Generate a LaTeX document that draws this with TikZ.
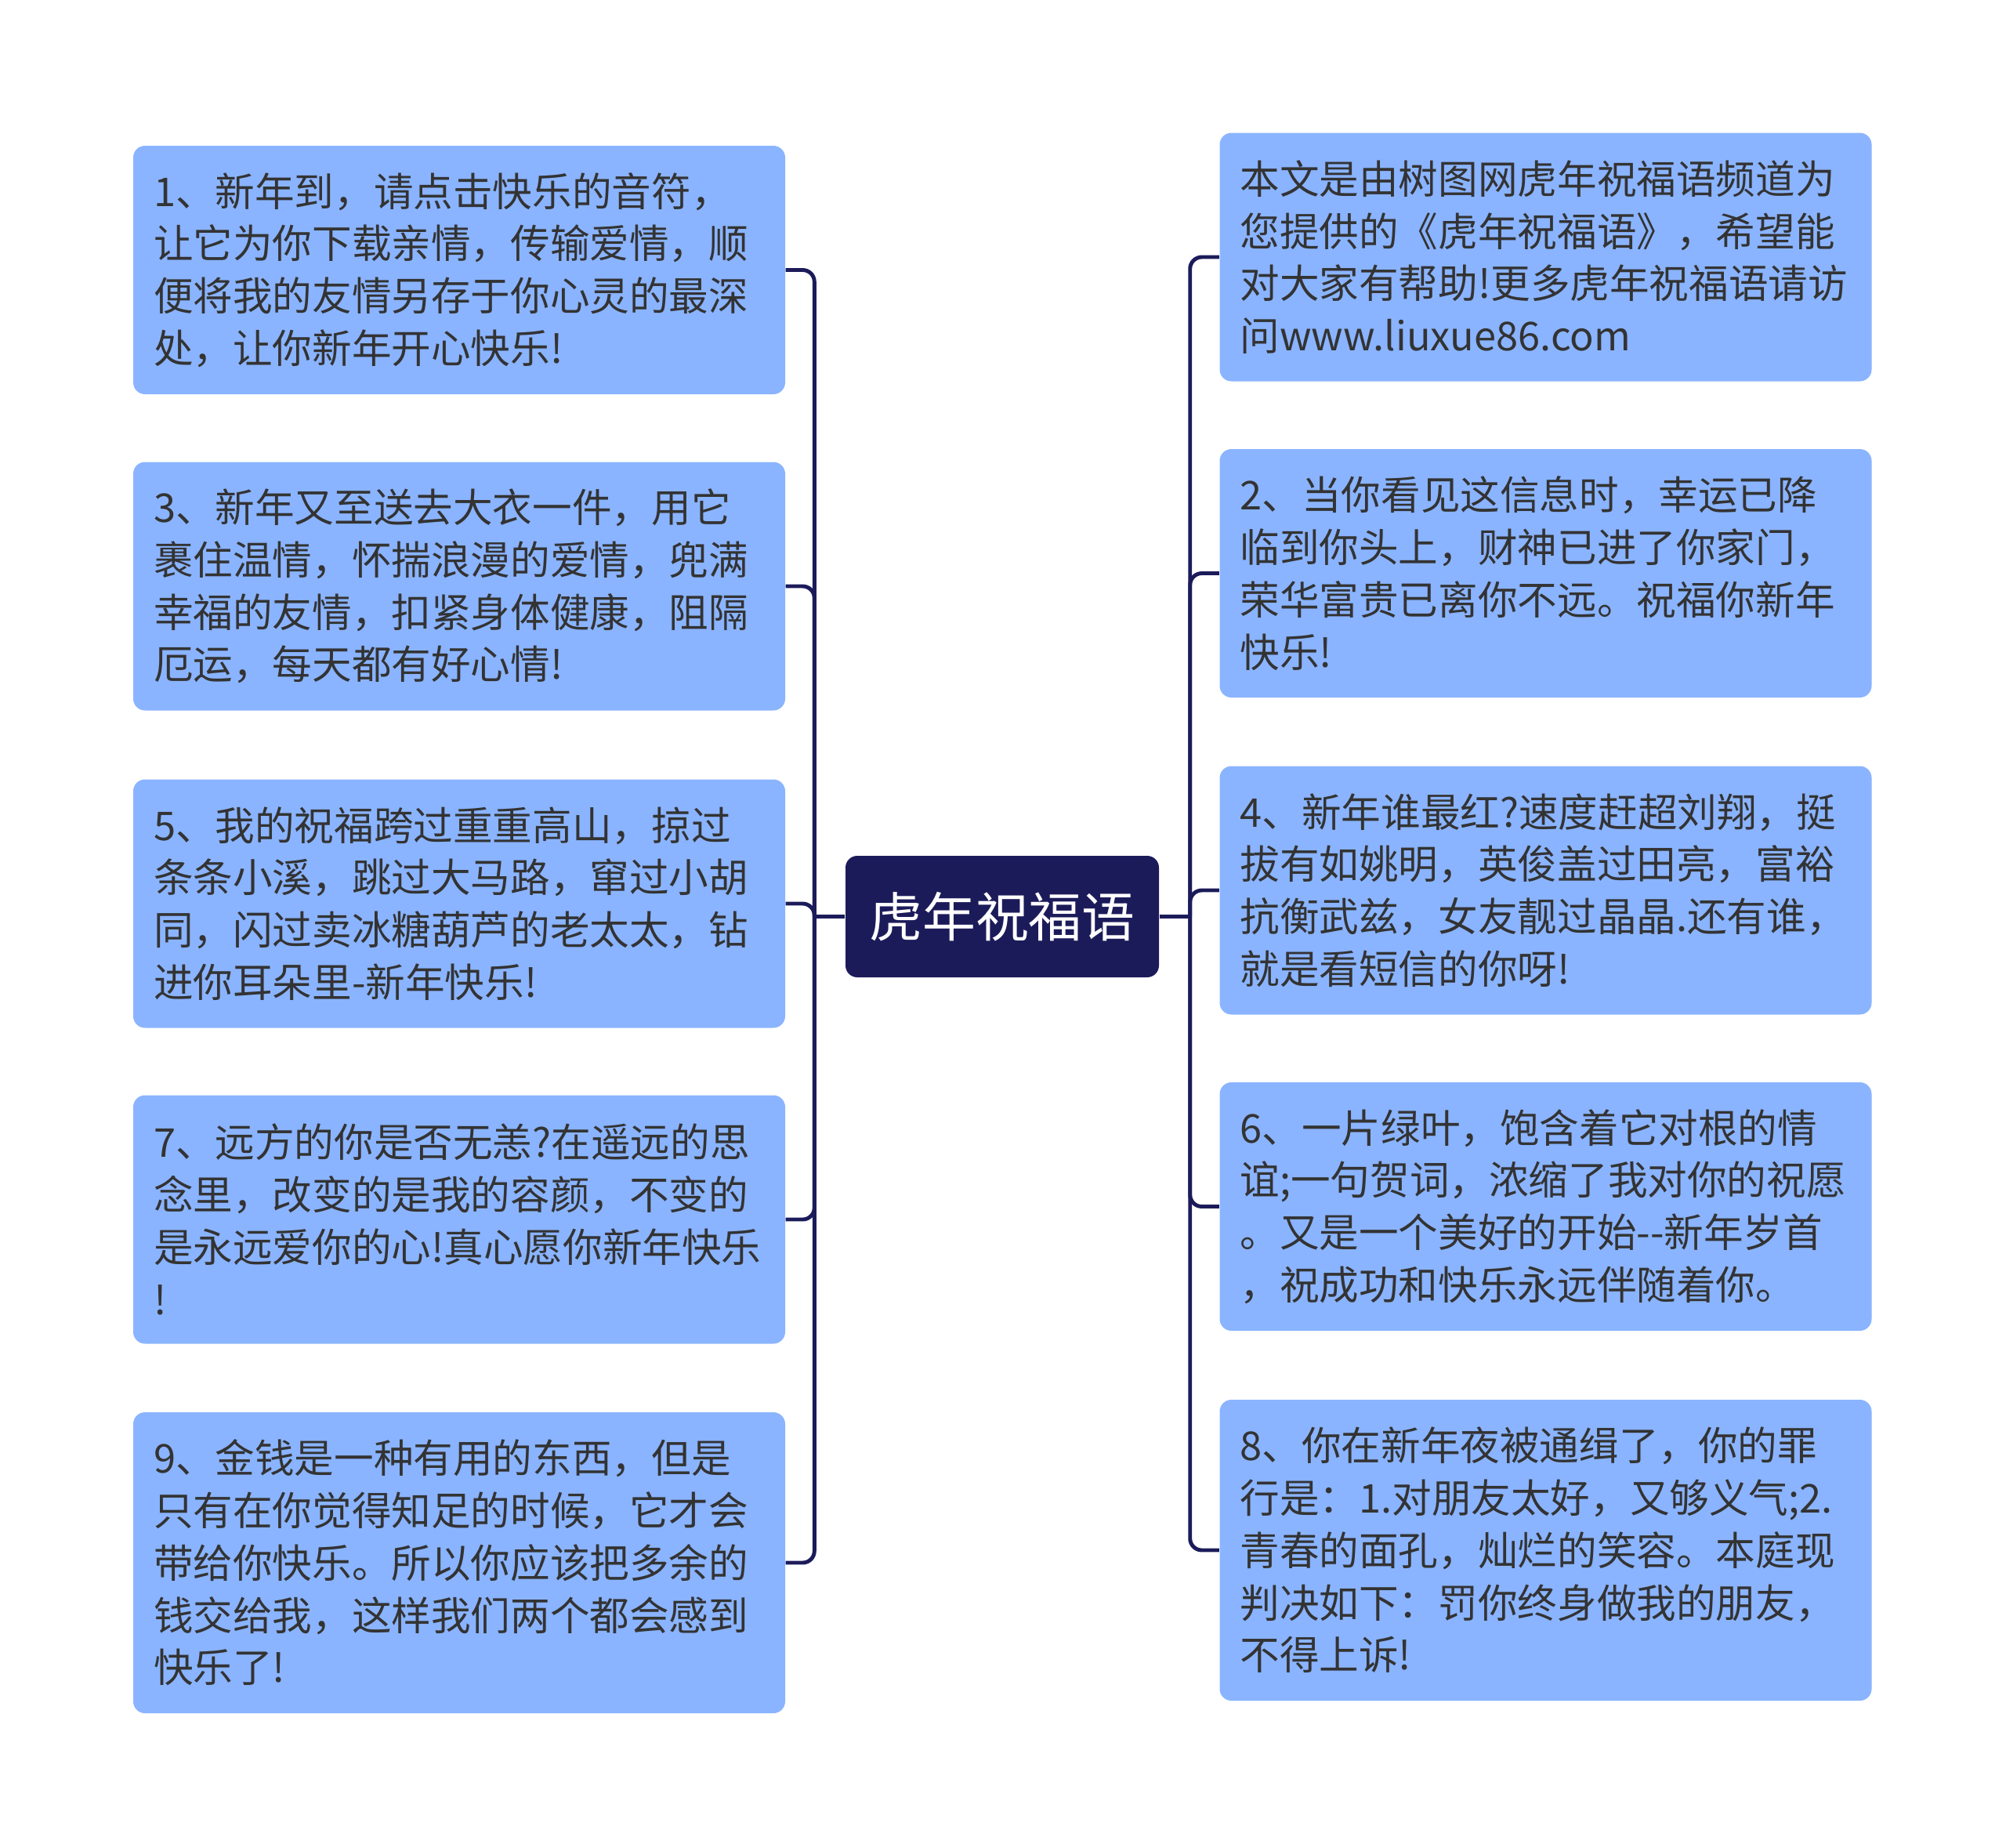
\documentclass[tikz,border=0pt]{standalone}
\usepackage{fontspec}
\setmainfont{Noto Sans CJK SC}
\usepackage{xcolor}
\usepackage{tikz}
\usetikzlibrary{positioning, calc}
\definecolor{inknavy}{RGB}{28, 27, 90}
\definecolor{fillblue}{RGB}{138, 180, 255}
\definecolor{inktext}{RGB}{51, 51, 51}
\tikzset{
    leaf/.style  ={fill=fillblue, draw=none, rounded corners=0.15cm,
                   minimum width=8.32cm, minimum height=3.17cm,
                   text width=7.8cm, inner xsep=0.26cm, align=left,
                   text=inktext, font=\fontsize{14.4}{19}\selectfont},
    tallleaf/.style={leaf, minimum height=3.84cm},
    root/.style  ={fill=inknavy, draw=none, rounded corners=0.15cm,
                   minimum width=4.0cm, minimum height=1.55cm,
                   text=white, font=\fontsize{19.3}{23}\selectfont},
    link/.style  ={draw=inknavy, line width=1.4pt, rounded corners=0.15cm}
}

\begin{document}
\begin{tikzpicture}
  \useasboundingbox (0,0) rectangle (25.6,-23.58);
  % centre
  \node[root] (hub) at (12.79,-11.695) {虎年祝福语};
  \coordinate (ltrunk) at ($(hub.west)+(-0.39,0)$);
  \coordinate (rtrunk) at ($(hub.east)+(0.39,0)$);

  % left side
  \node[leaf] (l1) at (5.86,-3.445) {1、新年到，请点击快乐的音符，\\让它为你下载亲情，传输爱情，顺\\便将我的友情另存于你心灵的最深\\处，让你新年开心快乐!};
  \node[leaf] (l3) at (5.86,-7.48) {3、新年又至送去大衣一件，用它\\裹住温情，怀揣浪漫的爱情，兜满\\幸福的友情，扣紧身体健康，阻隔\\厄运，每天都有好心情!};
  \node[leaf] (l5) at (5.86,-11.53) {5、我的祝福跨过重重高山，掠过\\条条小溪，跳过大马路，窜过小胡\\同，闪过卖冰糖葫芦的老太太，钻\\进你耳朵里-新年快乐!};
  \node[leaf] (l7) at (5.86,-15.56) {7、远方的你是否无恙?在遥远的思\\念里，改变的是我的容颜，不变的\\是永远爱你的心!真心愿你新年快乐\\!};
  \node[tallleaf] (l9) at (5.86,-19.94) {9、金钱是一种有用的东西，但是\\只有在你觉得知足的时候，它才会\\带给你快乐。所以你应该把多余的\\钱交给我，这样我们两个都会感到\\快乐了!};

  % right side
  \node[leaf] (r0) at (19.725,-3.28) {本文是由树图网虎年祝福语频道为\\您提供的《虎年祝福语》，希望能\\对大家有帮助!更多虎年祝福语请访\\问www.liuxue86.com};
  \node[leaf] (r2) at (19.725,-7.315) {2、当你看见这信息时，幸运已降\\临到你头上，财神已进了你家门，\\荣华富贵已离你不远。祝福你新年\\快乐!};
  \node[leaf] (r4) at (19.725,-11.36) {4、新年谁最红?速度赶超刘翔，挺\\拔有如姚明，英俊盖过田亮，富裕\\抗衡武兹，女友靓过晶晶.还有谁，\\就是看短信的你呀!};
  \node[leaf] (r6) at (19.725,-15.395) {6、一片绿叶，饱含着它对根的情\\谊;一句贺词，浓缩了我对你的祝愿\\。又是一个美好的开始-\kern0pt-新年岁首\\，祝成功和快乐永远伴随着你。};
  \node[tallleaf] (r8) at (19.725,-19.78) {8、你在新年夜被通缉了，你的罪\\行是：1.对朋友太好，又够义气;2.\\青春的面孔，灿烂的笑容。本庭现\\判决如下：罚你终身做我的朋友，\\不得上诉!};

  % connectors
  \draw[link] (hub.west) -- (ltrunk);
  \draw[link] (hub.east) -- (rtrunk);
  \foreach \n in {l1,l3,l5,l7,l9}
    \draw[link] (ltrunk) |- (\n.east);
  \foreach \n in {r0,r2,r4,r6,r8}
    \draw[link] (rtrunk) |- (\n.west);
\end{tikzpicture}
\end{document}
